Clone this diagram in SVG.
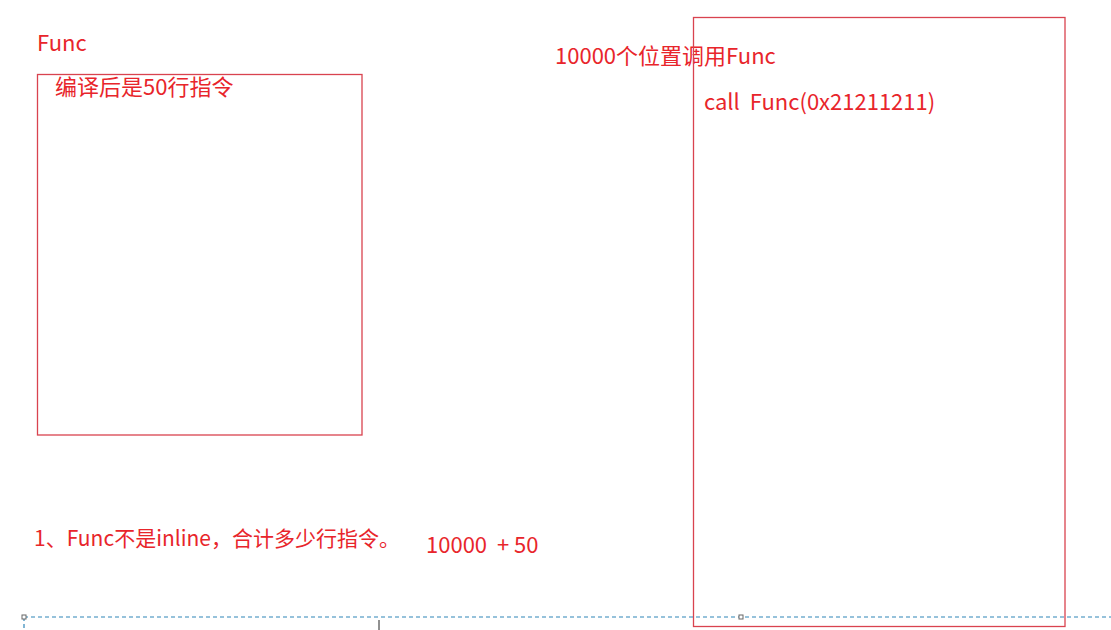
<svg xmlns="http://www.w3.org/2000/svg" width="1111" height="630" viewBox="0 0 1111 630">
<style>
.t{font-family:"Noto Sans CJK SC","Noto Sans",sans-serif;font-size:22px;fill:#e8252b}
.s{font-size:21px}
.box{fill:none;stroke:#d9434f;stroke-width:1.3}
</style>
<rect width="1111" height="630" fill="#ffffff"/>
<g id="func-label"><text class="t" x="37" y="51">Func</text></g>
<g id="func-box">
<rect class="box" x="37.5" y="74.5" width="324.5" height="360.5"/>
<text class="t" x="55" y="95">编译后是50行指令</text>
</g>
<g id="call-label"><text class="t" x="555" y="64">10000个位置调用Func</text></g>
<g id="call-box">
<rect class="box" x="693.5" y="17.5" width="371.5" height="609"/>
<text class="t" x="704" y="110" xml:space="preserve">call  Func(0x21211211)</text>
</g>
<g id="question">
<text class="t s" x="34" y="546">1、Func不是inline，合计多少行指令。</text>
<text class="t" x="426" y="553" xml:space="preserve">10000  + 50</text>
</g>
<g id="connectors">
<line x1="24" y1="617" x2="1111" y2="617" stroke="#2f86b8" stroke-width="1.2" stroke-dasharray="4,3"/>
<line x1="24" y1="617" x2="24" y2="630" stroke="#2f86b8" stroke-width="1.2" stroke-dasharray="4,3"/>
<rect x="22" y="615" width="4" height="4" fill="#fff" stroke="#666" stroke-width="1"/>
<rect x="739" y="615" width="4" height="4" fill="#fff" stroke="#666" stroke-width="1"/>
<line x1="379" y1="620" x2="379" y2="630" stroke="#222" stroke-width="1"/>
</g>
</svg>
